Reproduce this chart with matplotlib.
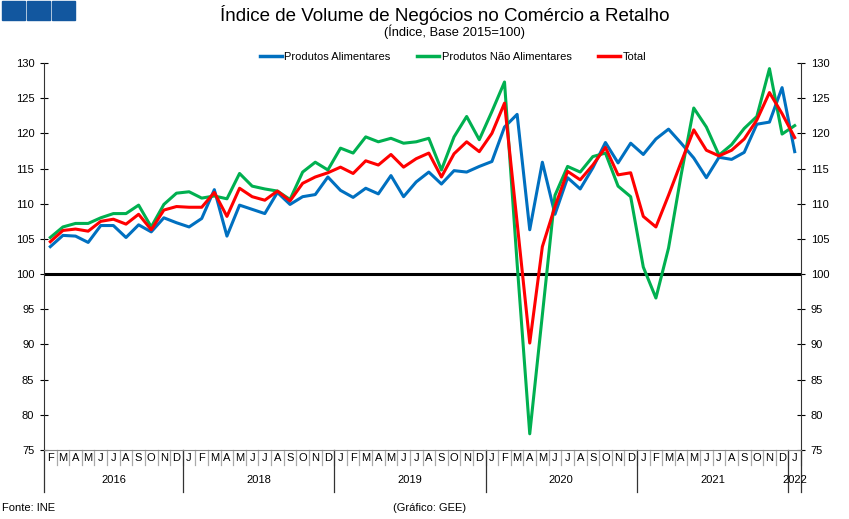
import matplotlib.pyplot as plt
from matplotlib.patches import Rectangle
from matplotlib.lines import Line2D

plt.rcParams['font.family'] = ['Liberation Sans', 'DejaVu Sans']

# monthly index values, Feb to Jan of the last year (60 months)
alimentares = [103.9, 105.5, 105.4, 104.5, 106.9, 106.9, 105.2, 107.0, 106.0, 108.0, 107.3,
               106.7, 107.9, 112.0, 105.4, 109.8, 109.2, 108.6, 111.6, 109.9, 111.0, 111.3, 113.8,
               111.9, 110.9, 112.2, 111.4, 114.0, 111.0, 113.1, 114.5, 112.8, 114.7, 114.5, 115.3,
               116.0, 120.9, 122.7, 106.3, 115.9, 108.5, 113.7, 112.1, 115.1, 118.7, 115.8, 118.6,
               117.0, 119.2, 120.6, 118.6, 116.5, 113.7, 116.6, 116.3, 117.3, 121.3, 121.6, 126.5,
               117.4]
nao_alimentares = [105.2, 106.7, 107.2, 107.2, 108.0, 108.6, 108.6, 109.8, 106.7, 109.9, 111.5,
                   111.7, 110.8, 111.1, 110.7, 114.3, 112.5, 112.1, 111.8, 110.6, 114.5, 115.9, 114.8,
                   117.9, 117.2, 119.5, 118.8, 119.3, 118.6, 118.8, 119.3, 114.8, 119.5, 122.4, 119.1,
                   123.1, 127.3, 101.5, 77.3, 94.2, 111.2, 115.3, 114.5, 116.7, 117.2, 112.5, 111.0,
                   101.0, 96.6, 103.7, 114.1, 123.6, 120.9, 116.9, 118.4, 120.7, 122.4, 129.2, 119.9,
                   121.1]
total = [104.6, 106.2, 106.4, 106.1, 107.5, 107.8, 107.1, 108.5, 106.3, 109.1, 109.6,
         109.5, 109.5, 111.6, 108.2, 112.2, 111.0, 110.5, 111.8, 110.4, 112.9, 113.8, 114.4,
         115.2, 114.3, 116.1, 115.5, 117.0, 115.2, 116.4, 117.2, 113.8, 117.1, 118.8, 117.4,
         120.0, 124.3, 107.3, 90.2, 103.9, 109.6, 114.6, 113.4, 115.5, 118.0, 114.1, 114.4,
         108.2, 106.7, 111.2, 115.9, 120.5, 117.6, 116.8, 117.6, 119.2, 121.9, 125.8, 122.8,
         119.4]

month_letters = 'JFMAMJJASOND'
months = [month_letters[(i + 1) % 12] for i in range(len(total))]
# year groups as labelled in the original (start index, end index, label)
years = [(0, 10, '2016'), (11, 22, '2018'), (23, 34, '2019'),
         (35, 46, '2020'), (47, 58, '2021'), (59, 59, '2022')]

W, H = 849, 519
fig = plt.figure(figsize=(W / 100, H / 100), dpi=100)
ax = fig.add_axes([44 / W, (H - 450) / H, 757 / W, 387 / H])

x = list(range(len(total)))
ax.axhline(100, color='black', lw=2.2, zorder=1)
ax.plot(x, alimentares, color='#0070C0', lw=2.2, zorder=2)
ax.plot(x, nao_alimentares, color='#00B050', lw=2.2, zorder=3)
ax.plot(x, total, color='#FF0000', lw=2.2, zorder=4)

ax.set_xlim(-0.5, len(total) - 0.5)
ax.set_ylim(75, 130)
ax.set_yticks(range(75, 131, 5))
ax.tick_params(axis='y', direction='inout', length=6, width=0.8, labelsize=8,
               left=True, right=True, labelleft=True, labelright=True, pad=4)
ax.set_xticks([])
for s in ['left', 'right']:
    ax.spines[s].set_color('#333333')
    ax.spines[s].set_linewidth(0.8)
ax.spines['top'].set_visible(False)
ax.spines['bottom'].set_color('#888888')
ax.spines['bottom'].set_linewidth(0.8)

# category axis: month letters, separators, year labels
tr = ax.get_xaxis_transform()
mh = 15 / 387
yh = 42 / 387
for i, m in enumerate(months):
    ax.text(i, -mh / 2 - 0.002, m, transform=tr, ha='center', va='center', fontsize=8)
    ax.plot([i + 0.5, i + 0.5], [0, -mh], transform=tr, color='#aaaaaa', lw=0.9, clip_on=False)
for a, b, lab in years:
    ax.plot([a - 0.5, a - 0.5], [0, -yh], transform=tr, color='#333333', lw=0.9, clip_on=False)
    ax.text((a + b) / 2, -mh - (yh - mh) / 2 - 0.004, lab, transform=tr,
            ha='center', va='center', fontsize=8)
ax.plot([len(total) - 0.5] * 2, [0, -yh], transform=tr, color='#333333', lw=0.9, clip_on=False)

# titles
fig.text(445 / W, 1 - 15 / H, 'Índice de Volume de Negócios no Comércio a Retalho',
         ha='center', va='center', fontsize=13.5)
fig.text(454 / W, 1 - 32 / H, '(Índice, Base 2015=100)', ha='center', va='center', fontsize=9.3)

# header squares
for k in range(3):
    fig.patches.append(Rectangle(((2 + k * 25) / W, 1 - 20 / H), 22.5 / W, 19 / H,
                                 transform=fig.transFigure, color='#12579F'))

handles = [Line2D([], [], color='#0070C0', lw=2.5),
           Line2D([], [], color='#00B050', lw=2.5),
           Line2D([], [], color='#FF0000', lw=2.5)]
fig.legend(handles, ['Produtos Alimentares', 'Produtos Não Alimentares', 'Total'],
           loc='center', bbox_to_anchor=(453 / W, 1 - 57 / H), ncol=3, frameon=False,
           fontsize=8, handlelength=2.0, handletextpad=0.2, columnspacing=2.4)

fig.text(2 / W, 1 - 508 / H, 'Fonte: INE', ha='left', va='center', fontsize=8)
fig.text(430 / W, 1 - 508 / H, '(Gráfico: GEE)', ha='center', va='center', fontsize=8)

fig.savefig('out.png', dpi=100)
